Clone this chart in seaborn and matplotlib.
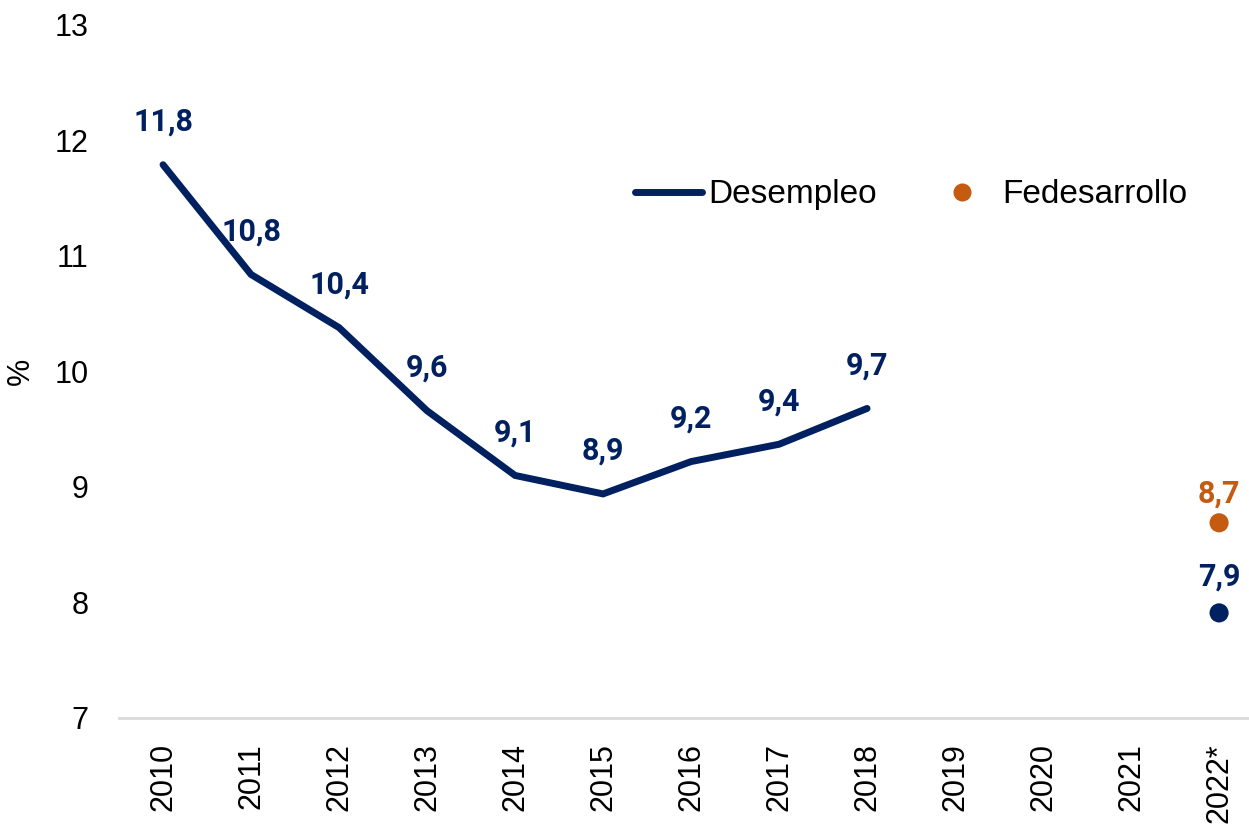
import matplotlib
matplotlib.use('Agg')
import matplotlib.pyplot as plt
import seaborn as sns
import pandas as pd
from matplotlib.lines import Line2D

sns.set_theme(style='white')
plt.rcParams['font.family'] = ['Liberation Sans', 'DejaVu Sans']

# ── data ──────────────────────────────────────
years = ['2010', '2011', '2012', '2013', '2014', '2015', '2016',
         '2017', '2018', '2019', '2020', '2021', '2022*']
line_years = ['2010', '2011', '2012', '2013', '2014', '2015', '2016', '2017', '2018']
desempleo = [11.79, 10.84, 10.38, 9.66, 9.10, 8.94, 9.22, 9.37, 9.68]
desempleo_lbl = ['11,8', '10,8', '10,4', '9,6', '9,1', '8,9', '9,2', '9,4', '9,7']
proj_year = '2022*'
proj_desempleo = 7.91
proj_desempleo_lbl = '7,9'
fedesarrollo = 8.69
fedesarrollo_lbl = '8,7'

NAVY = '#002060'
ORANGE = '#C55A11'

df = pd.DataFrame({'pos': [years.index(y) for y in line_years], 'valor': desempleo})
pts = pd.DataFrame({'pos': [years.index(proj_year)] * 2,
                    'valor': [proj_desempleo, fedesarrollo],
                    'serie': ['Desempleo', 'Fedesarrollo']})

fig = plt.figure(figsize=(12.49, 8.38), dpi=100)
ax = fig.add_axes([0.0953, 0.1432, 0.9047, 0.827])

sns.lineplot(data=df, x='pos', y='valor', color=NAVY, linewidth=5,
             solid_capstyle='round', solid_joinstyle='miter', ax=ax, legend=False)
sns.scatterplot(data=pts, x='pos', y='valor', hue='serie',
                palette={'Desempleo': NAVY, 'Fedesarrollo': ORANGE},
                s=190, edgecolor='none', ax=ax, legend=False)

lbl_font = dict(family=['Roboto', 'DejaVu Sans'], fontweight='bold', fontsize=22)
for x, v, t in zip(df['pos'], desempleo, desempleo_lbl):
    ax.annotate(t, (x, v), xytext=(0, 31), textcoords='offset points',
                ha='center', va='center', color=NAVY, **lbl_font)
ax.annotate(proj_desempleo_lbl, (years.index(proj_year), proj_desempleo), xytext=(0, 26),
            textcoords='offset points', ha='center', va='center', color=NAVY, **lbl_font)
ax.annotate(fedesarrollo_lbl, (years.index(proj_year), fedesarrollo), xytext=(0, 21),
            textcoords='offset points', ha='center', va='center', color=ORANGE, **lbl_font)

ax.set_xlim(-0.5, 12.34)
ax.set_ylim(7, 13)
ax.set_xticks(range(len(years)))
ax.set_xticklabels(years, rotation=90)
ax.set_yticks(range(7, 14))
ax.tick_params(axis='both', length=0, labelsize=22, colors='black')
ax.tick_params(axis='y', pad=22)
ax.tick_params(axis='x', pad=18)
ax.set_xlabel('')
ax.set_ylabel('%', fontsize=22, color='black')
ax.yaxis.set_label_coords(-0.074, 0.5)

for s in ['top', 'right', 'left']:
    ax.spines[s].set_visible(False)
ax.spines['bottom'].set_color('#D9D9D9')
ax.spines['bottom'].set_linewidth(2)

handles = [Line2D([0], [0], color=NAVY, lw=5, solid_capstyle='round'),
           Line2D([0], [0], marker='o', color='none', markerfacecolor=ORANGE,
                  markeredgecolor='none', markersize=13)]
leg = ax.legend(handles, ['Desempleo', 'Fedesarrollo'], ncol=2, frameon=False,
                loc='center left', bbox_to_anchor=(0.43, 0.755),
                prop={'family': ['Liberation Sans Narrow', 'Liberation Sans'], 'size': 24},
                handlelength=2.0, handletextpad=0.2, columnspacing=1.55)
for t in leg.get_texts():
    t.set_color('black')

plt.savefig('out.png', dpi=100)
plt.close()
